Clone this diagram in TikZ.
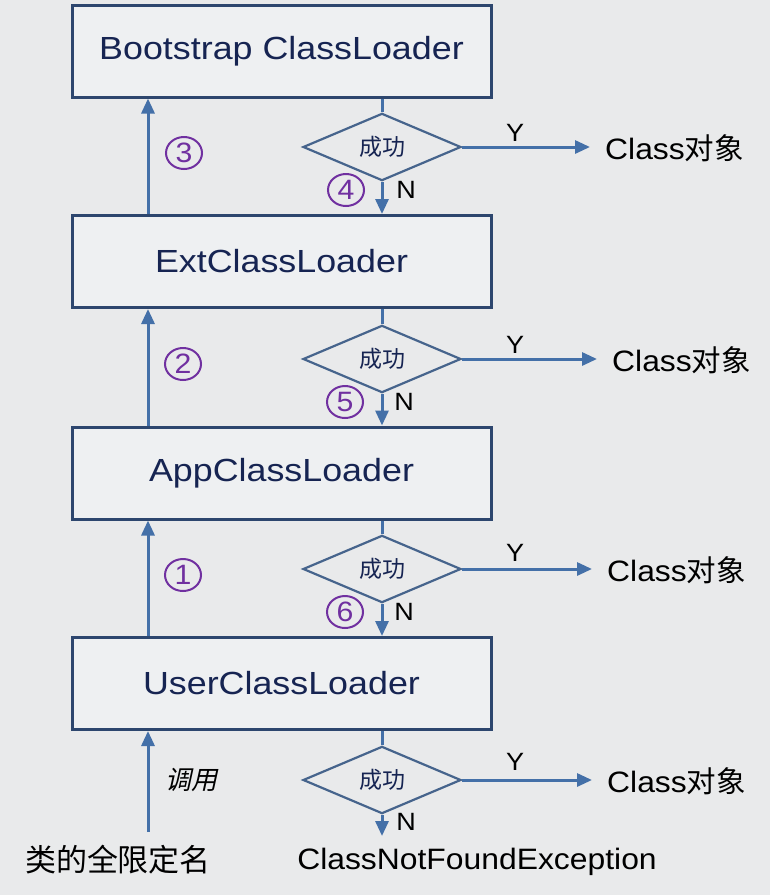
\documentclass[tikz,border=0pt]{standalone}
\usepackage{fontspec}
\setmainfont{Liberation Sans}[FakeStretch=1.08]
\newfontfamily\boxfont{Liberation Sans}[FakeStretch=1.12]
\newfontfamily\cjk{Noto Sans CJK SC}
\newfontfamily\cjkit{Noto Sans CJK SC}[FakeSlant=0.22]
\usetikzlibrary{shapes.geometric,arrows.meta}
\definecolor{bg}{RGB}{233,234,235}
\definecolor{boxfill}{RGB}{238,240,242}
\definecolor{boxline}{RGB}{45,70,110}
\definecolor{arrcol}{RGB}{68,112,168}
\definecolor{diaml}{RGB}{70,100,140}
\definecolor{navy}{RGB}{22,36,82}
\definecolor{purp}{RGB}{112,48,160}
\begin{document}
\begin{tikzpicture}[x=1pt,y=-1pt,
  loader/.style={draw=boxline,fill=boxfill,line width=3pt,minimum width=419pt,minimum height=92pt,inner sep=0pt,text=navy,font=\boxfont\fontsize{32}{36}\selectfont},
  decide/.style={diamond,draw=diaml,line width=2.2pt,minimum width=158pt,minimum height=48pt,inner sep=0pt,text=navy,font=\cjk\fontsize{23}{26}\selectfont},
  arr/.style={draw=arrcol,line width=3pt,-{Triangle[width=13pt,length=15pt]}},
  ln/.style={draw=arrcol,line width=3pt},
  lbl/.style={inner sep=0pt,text=black,font=\fontsize{29.5}{34}\selectfont},
  yn/.style={inner sep=0pt,text=black,font=\fontsize{25}{28}\selectfont},
  num/.style={ellipse,draw=purp,line width=2pt,minimum width=36pt,minimum height=32pt,inner sep=0pt,text=purp,font=\fontsize{28}{30}\selectfont}]
\fill[bg] (0,0) rectangle (770,895);
\useasboundingbox (0,0) rectangle (770,895);
\coordinate (ux) at (148,0);

\node[loader] (b1) at (281.5,51) {Bootstrap ClassLoader};
\node[loader] (b2) at (281.5,261.5) {ExtClassLoader};
\node[loader] (b3) at (281.5,473) {AppClassLoader};
\node[loader] (b4) at (281.5,683.5) {UserClassLoader};

\node[decide] (d1) at (382,147) {成功};
\node[decide] (d2) at (382,359) {成功};
\node[decide] (d3) at (382,569) {成功};
\node[decide] (d4) at (382,780) {成功};

\node[lbl,anchor=west] (c1) at (605,148) {Class{\cjk 对象}};
\node[lbl,anchor=west] (c2) at (612,360) {Class{\cjk 对象}};
\node[lbl,anchor=west] (c3) at (607,570) {Class{\cjk 对象}};
\node[lbl,anchor=west] (c4) at (607,781) {Class{\cjk 对象}};

\node[lbl] (src) at (118,860) {\cjk\fontsize{31}{34}\selectfont 类的全限定名};
\node[lbl] (cnf) at (477,862) {ClassNotFoundException};
\node[inner sep=0pt,text=black,font=\cjkit\fontsize{26}{28}\selectfont] (call) at (191,780) {调用};
\coordinate (srctop) at (148,832);
\coordinate (cnftop) at (382,836);

% up arrows
\draw[arr] (srctop) -- (ux |- b4.south);
\draw[arr] (ux |- b4.north) -- (ux |- b3.south);
\draw[arr] (ux |- b3.north) -- (ux |- b2.south);
\draw[arr] (ux |- b2.north) -- (ux |- b1.south);

% down flow
\draw[ln] (d1.north |- b1.south) -- (d1.north);
\draw[arr] (d1.south) -- (d1.south |- b2.north);
\draw[ln] (d2.north |- b2.south) -- (d2.north);
\draw[arr] (d2.south) -- (d2.south |- b3.north);
\draw[ln] (d3.north |- b3.south) -- (d3.north);
\draw[arr] (d3.south) -- (d3.south |- b4.north);
\draw[ln] (d4.north |- b4.south) -- (d4.north);
\draw[arr] (d4.south) -- (cnftop);

% yes arrows
\draw[arr] (d1.east) -- ([xshift=-15pt]c1.west |- d1.east);
\draw[arr] (d2.east) -- ([xshift=-15pt]c2.west |- d2.east);
\draw[arr] (d3.east) -- ([xshift=-15pt]c3.west |- d3.east);
\draw[arr] (d4.east) -- ([xshift=-15pt]c4.west |- d4.east);

% Y / N labels
\node[yn] (y1) at (515,133) {Y};
\node[yn] (y2) at (515,345) {Y};
\node[yn] (y3) at (515,553) {Y};
\node[yn] (y4) at (515,762) {Y};
\node[yn] (n1) at (406,190) {N};
\node[yn] (n2) at (404,402) {N};
\node[yn] (n3) at (404,612) {N};
\node[yn] (n4) at (406,822) {N};

% step numbers
\node[num] (s3) at (184,153) {3};
\node[num] (s4) at (346,190) {4};
\node[num] (s2) at (183,364) {2};
\node[num] (s5) at (345,402) {5};
\node[num] (s1) at (183,575) {1};
\node[num] (s6) at (345,612) {6};
\end{tikzpicture}
\end{document}
